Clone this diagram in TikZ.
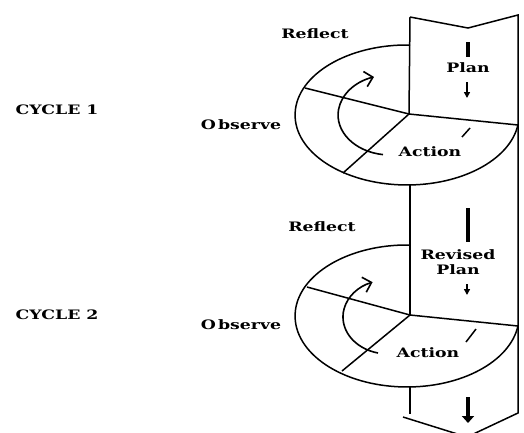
\documentclass[tikz,border=0pt]{standalone}
\usepackage{fontspec}
\newfontfamily\lab{DejaVu Serif}[FakeStretch=1.33]
\usetikzlibrary{arrows.meta}
\begin{document}
\begin{tikzpicture}[x=1pt,y=1pt,
  edge/.style={line width=1.5pt, line join=miter, line cap=butt},
  lbl/.style={font=\lab\bfseries\fontsize{13}{15}\selectfont, inner sep=0pt, align=center},
  barline/.style={line width=3.8pt},
  turn/.style={line width=1.6pt, -{Straight Barb[angle=90:11pt, line width=1.6pt]}},
  downarrow/.style={line width=1.6pt, -{Triangle[length=6pt, width=6pt]}},
  bigdown/.style={line width=4pt, -{Triangle[length=7pt, width=12pt]}},
]
\useasboundingbox (0,0) rectangle (524,-432);
\clip (0,0) rectangle (524,-432);

% ---------- band ----------
\coordinate (btl) at (410,-17);
\coordinate (btn) at (468,-28);
\coordinate (btr) at (518,-15);
\coordinate (bbr) at (518,-413);
\coordinate (bbn) at (467,-437);
\coordinate (bbl) at (403,-417);
\coordinate (blb) at (410,-414);

% ---------- cycle 1 geometry ----------
\coordinate (s1) at (409,-114);
\coordinate (top1) at (410,-45);
\coordinate (l1) at (305,-88);
\coordinate (r1) at (518,-125);
\coordinate (b1) at (343,-173);
\coordinate (m1) at (410,-185);

% ---------- cycle 2 geometry ----------
\coordinate (s2) at (410,-315);
\coordinate (top2) at (410,-245);
\coordinate (l2) at (307,-287);
\coordinate (r2) at (518,-326);
\coordinate (b2) at (342,-371);
\coordinate (m2) at (410,-386);

% band outline
\draw[edge] (btl) -- (btn) -- (btr) -- (bbr) -- (bbn) -- (bbl);
\draw[edge] (btl) -- (s1);
\draw[edge] (m1) -- (s2);
\draw[edge] (m2) -- (blb);

% ellipses (visible part)
\draw[edge] (top1) arc[start angle=88.5, end angle=351.8, x radius=112pt, y radius=70pt];
\draw[edge] (top2) arc[start angle=88.5, end angle=351.8, x radius=112pt, y radius=71pt];

% spokes
\draw[edge] (s1) -- (l1);
\draw[edge] (s1) -- (r1);
\draw[edge] (s1) -- (b1);
\draw[edge] (s2) -- (l2);
\draw[edge] (s2) -- (r2);
\draw[edge] (s2) -- (b2);

% curved arrows
\draw[turn] (383,-154.6) arc[start angle=262.2, end angle=108, x radius=52pt, y radius=40pt];
\draw[turn] (378,-353) arc[start angle=257.2, end angle=110, x radius=45pt, y radius=37pt];

% ticks
\draw[edge] (462,-137) -- (470,-128);
\draw[edge] (466,-342) -- (476,-329);

% bars and arrows inside band
\coordinate (bar1a) at (468,-42);
\coordinate (bar1b) at (468,-57);
\draw[barline] (bar1a) -- (bar1b);
\coordinate (ar1a) at (467,-82);
\coordinate (ar1b) at (467,-98);
\draw[downarrow] (ar1a) -- (ar1b);
\coordinate (bar2a) at (468,-208);
\coordinate (bar2b) at (468,-242);
\draw[barline] (bar2a) -- (bar2b);
\coordinate (ar2a) at (467,-284);
\coordinate (ar2b) at (467,-295);
\draw[downarrow] (ar2a) -- (ar2b);
\coordinate (ar3a) at (468,-397);
\coordinate (ar3b) at (468,-423);
\draw[bigdown] (ar3a) -- (ar3b);

% labels
\node[lbl] (cyc1) at (57,-110) {CYCLE 1};
\node[lbl] (cyc2) at (57,-315) {CYCLE 2};
\node[lbl] (ref1) at (315,-34) {Reflect};
\node[lbl] (ref2) at (322,-227) {Reflect};
\node[lbl] (obs1) at (241,-125) {O\,bserve};
\node[lbl] (obs2) at (241,-325) {O\,bserve};
\node[lbl] (plan1) at (468,-68) {Plan};
\node[lbl] (rplan) at (458,-262) {Revised\\Plan};
\node[lbl] (act1) at (430,-152) {Action};
\node[lbl] (act2) at (428,-353) {Action};
\end{tikzpicture}
\end{document}
